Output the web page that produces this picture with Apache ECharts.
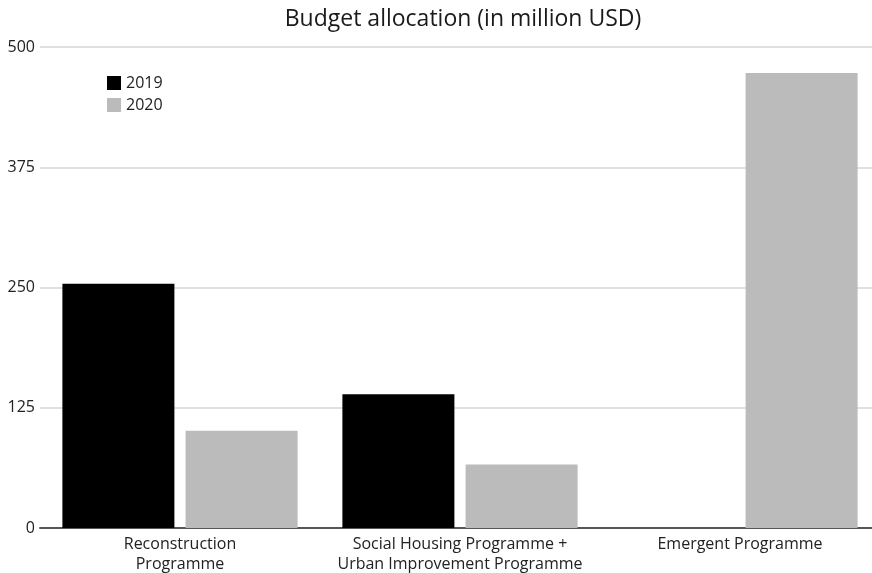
<!DOCTYPE html>
<html><head><meta charset="utf-8">
<script src="https://cdn.jsdelivr.net/npm/echarts@6/dist/echarts.min.js"></script>
<style>html,body{margin:0;padding:0;background:#fff}#c{width:872px;height:573px}</style>
</head><body><div id="c"></div>
<script>
const categories = ["Reconstruction\nProgramme", "Social Housing Programme +\nUrban Improvement Programme", "Emergent Programme"];
const seriesNames = ["2019", "2020"];
const values2019 = [254, 139, null];
const values2020 = [101, 66, 473];
const yTicks = [0, 125, 250, 375, 500];

const font = "Open Sans";
const chart = echarts.init(document.getElementById('c'));
chart.setOption({
  animation: false,
  backgroundColor: '#fff',
  title: {
    text: 'Budget allocation (in million USD)',
    left: 458, top: 3, textAlign: 'center',
    textStyle: {fontFamily: font, fontSize: 23, fontWeight: 'normal', color: '#1a1a1a'}
  },
  legend: {
    orient: 'vertical', left: 102, top: 70, itemWidth: 14, itemHeight: 14, itemGap: 6,
    icon: 'rect',
    data: seriesNames,
    textStyle: {fontFamily: font, fontSize: 16, color: '#222'}
  },
  grid: {left: 40, width: 840, top: 47, bottom: 45, containLabel: false, outerBoundsMode: 'none'},
  xAxis: {
    type: 'category', data: categories,
    axisLine: {lineStyle: {color: '#555', width: 2}},
    axisTick: {show: false},
    axisLabel: {fontFamily: font, fontSize: 16, color: '#222', lineHeight: 20, margin: 6, interval: 0}
  },
  yAxis: {
    type: 'value', min: yTicks[0], max: yTicks[yTicks.length-1], interval: 125,
    axisLine: {show: false}, axisTick: {show: false},
    splitLine: {lineStyle: {color: '#e0e0e0', width: 2}},
    axisLabel: {fontFamily: font, fontSize: 16, color: '#222', margin: 5}
  },
  series: [
    {name: seriesNames[0], type: 'bar', data: values2019, barGap: '10%', barCategoryGap: '16%',
     itemStyle: {color: '#000'}},
    {name: seriesNames[1], type: 'bar', data: values2020,
     itemStyle: {color: '#bbbbbb'}}
  ]
});
</script></body></html>
